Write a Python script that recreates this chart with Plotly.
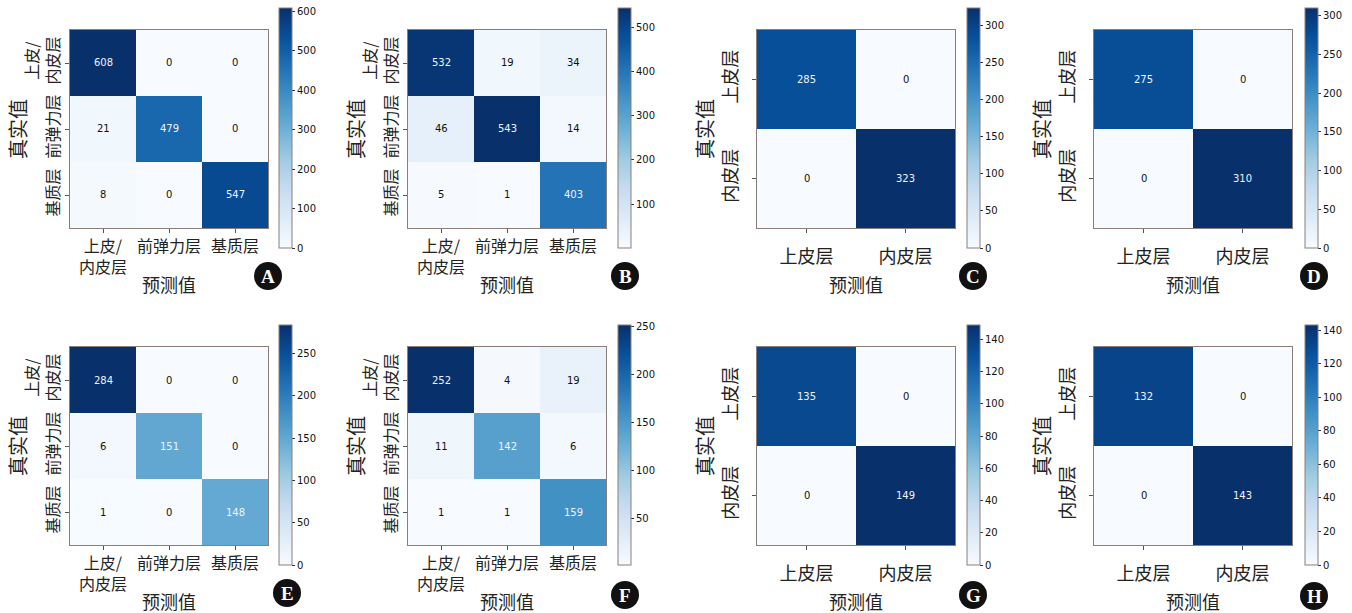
import plotly.graph_objects as go
import plotly.express as px

# ---------------- data ----------------
labels3 = ["上皮/<br>内皮层", "前弹力层", "基质层"]
labels2 = ["上皮层", "内皮层"]

cm_A = [[608, 0, 0], [21, 479, 0], [8, 0, 547]]
cm_B = [[532, 19, 34], [46, 543, 14], [5, 1, 403]]
cm_C = [[285, 0], [0, 323]]
cm_D = [[275, 0], [0, 310]]
cm_E = [[284, 0, 0], [6, 151, 0], [1, 0, 148]]
cm_F = [[252, 4, 19], [11, 142, 6], [1, 1, 159]]
cm_G = [[135, 0], [0, 149]]
cm_H = [[132, 0], [0, 143]]

panel_letters = ["A", "B", "C", "D", "E", "F", "G", "H"]
matrices = [cm_A, cm_B, cm_C, cm_D, cm_E, cm_F, cm_G, cm_H]
cbar_dticks = [100, 100, 50, 50, 50, 50, 20, 20]
x_title = "预测值"
y_title = "真实值"

# ---------------- layout geometry (pixels) ----------------
W, H = 1352, 613
col_left = [70, 408, 757, 1094]
row_top = [30, 347]
cell = 198
cb_left = [279, 618, 967, 1305]
cb_top = [8, 325]
cb_len = 240
letter_pos = [(268, 276), (625, 276), (973, 276), (1314, 276),
              (287, 593), (625, 595), (973, 595), (1314, 596)]

blues = px.colors.sequential.Blues
n_b = len(blues)
colorscale = [[i / (n_b - 1), c] for i, c in enumerate(blues)]

frame = "#8a7e7b"
cjk = "Noto Sans CJK SC"

fig = go.Figure()
annotations = []
shapes = []

for k, cm in enumerate(matrices):
    r, c = divmod(k, 4)
    n = len(cm)
    labels = labels3 if n == 3 else labels2
    tick_fs = 16 if n == 3 else 18
    standoff = 0 if n == 3 else 8
    x0 = col_left[c]
    y0 = row_top[r]
    xd = [x0 / W, (x0 + cell) / W]
    yd = [1 - (y0 + cell) / H, 1 - y0 / H]
    ax = "" if k == 0 else str(k + 1)
    flat = [v for row in cm for v in row]
    zmin, zmax = min(flat), max(flat)
    thresh = (zmin + zmax) / 2

    cb_mid = cb_top[r] + cb_len / 2
    fig.add_trace(go.Heatmap(
        z=cm, x=list(range(n)), y=list(range(n)),
        colorscale=colorscale, zmin=zmin, zmax=zmax,
        xaxis="x" + ax, yaxis="y" + ax,
        hoverinfo="z",
        colorbar=dict(
            x=cb_left[c] / W, xanchor="left", xpad=0, ypad=0,
            y=1 - cb_mid / H, yanchor="middle",
            len=cb_len, lenmode="pixels",
            thickness=13, thicknessmode="pixels",
            outlinewidth=1, outlinecolor=frame,
            ticks="outside", ticklen=3, tickcolor="#333",
            tick0=0, dtick=cbar_dticks[k],
            tickfont=dict(family="DejaVu Sans", size=10, color="#111"),
        ),
    ))
    axis_common = dict(showline=True, mirror=True, linecolor=frame, linewidth=1,
                       showgrid=False, zeroline=False, ticks="outside", ticklen=4,
                       tickcolor="#555", ticklabelstandoff=standoff,
                       tickfont=dict(family=cjk, size=tick_fs, color="#222"))
    fig.update_layout(**{
        "xaxis" + ax: dict(domain=xd, anchor="y" + ax, range=[-0.5, n - 0.5],
                           tickvals=list(range(n)), ticktext=labels, **axis_common),
        "yaxis" + ax: dict(domain=yd, anchor="x" + ax, range=[n - 0.5, -0.5],
                           tickvals=list(range(n)), ticktext=labels, tickangle=-90,
                           **axis_common),
    })
    # cell values
    for i in range(n):
        for j in range(n):
            v = cm[i][j]
            annotations.append(dict(
                x=j, y=i, xref="x" + ax, yref="y" + ax, text=str(v), showarrow=False,
                font=dict(family="DejaVu Sans", size=10,
                          color="#eef3fb" if v > thresh else "#111"),
            ))
    # axis titles
    annotations.append(dict(
        x=(x0 + cell / 2) / W, y=1 - (y0 + cell + 56) / H, xref="paper", yref="paper",
        text=x_title, showarrow=False, font=dict(family=cjk, size=18, color="#222"),
        xanchor="center", yanchor="middle"))
    annotations.append(dict(
        x=(x0 - 53) / W, y=1 - (y0 + cell / 2) / H, xref="paper", yref="paper",
        text=y_title, showarrow=False, textangle=-90,
        font=dict(family=cjk, size=20, color="#222"),
        xanchor="center", yanchor="middle"))
    # panel letter badge
    lx, ly = letter_pos[k]
    rad = 14
    shapes.append(dict(type="circle", xref="paper", yref="paper",
                       x0=(lx - rad) / W, x1=(lx + rad) / W,
                       y0=1 - (ly + rad) / H, y1=1 - (ly - rad) / H,
                       fillcolor="#111", line=dict(width=0)))
    annotations.append(dict(
        x=lx / W, y=1 - ly / H, xref="paper", yref="paper", text="<b>" + panel_letters[k] + "</b>",
        showarrow=False, font=dict(family="Liberation Serif", size=19, color="white"),
        xanchor="center", yanchor="middle"))

fig.update_layout(
    width=W, height=H, margin=dict(l=0, r=0, t=0, b=0),
    paper_bgcolor="white", plot_bgcolor="white",
    font=dict(family=cjk),
    annotations=annotations, shapes=shapes,
)

fig.write_html("out.html")
